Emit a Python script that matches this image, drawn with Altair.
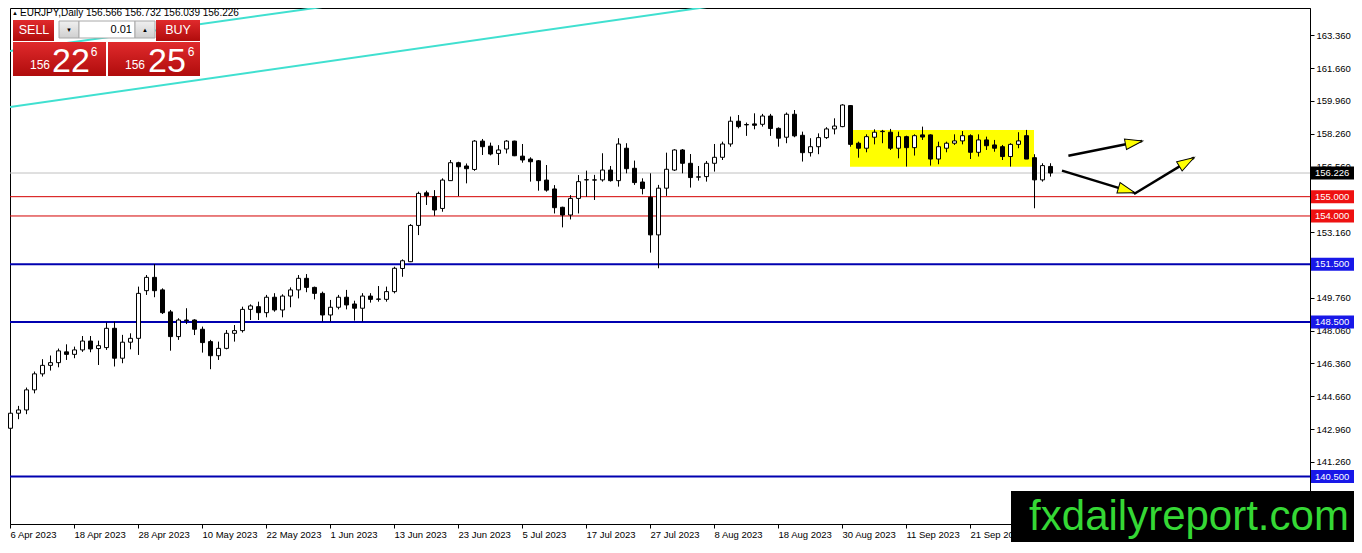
import json
import altair as alt
import pandas as pd

# ---------------- values ----------------
date_labels = ['6 Apr 2023', '18 Apr 2023', '28 Apr 2023', '10 May 2023', '22 May 2023',
               '1 Jun 2023', '13 Jun 2023', '23 Jun 2023', '5 Jul 2023', '17 Jul 2023',
               '27 Jul 2023', '8 Aug 2023', '18 Aug 2023', '30 Aug 2023', '11 Sep 2023',
               '21 Sep 2023']

opens = [143.00, 143.78, 143.95, 144.99, 145.82, 146.26, 146.40, 146.96, 146.83, 147.06,
         147.52, 147.13, 147.18, 148.18, 146.63, 147.46, 147.66, 150.13, 150.82, 150.17,
         149.03, 147.75, 148.61, 148.61, 148.13, 147.49, 146.76, 147.14, 147.92, 148.06,
         149.16, 149.30, 148.99, 149.79, 149.13, 149.85, 150.17, 150.77, 150.30, 149.99,
         148.87, 149.27, 149.79, 149.44, 149.22, 149.85, 149.68, 149.68, 150.08, 151.28,
         151.63, 153.51, 155.20, 155.00, 154.39, 155.83, 156.76, 156.59, 156.41, 157.88,
         157.62, 157.24, 157.47, 157.88, 157.10, 156.95, 156.86, 155.86, 155.40, 154.45,
         154.05, 154.91, 155.87, 155.87, 155.87, 156.38, 155.83, 157.51, 156.47, 155.76,
         154.97, 153.02, 155.44, 156.38, 157.42, 156.73, 156.01, 156.04, 156.73, 157.04,
         157.73, 158.91, 158.72, 158.77, 158.75, 159.18, 158.54, 158.08, 159.27, 158.18,
         157.28, 157.59, 158.06, 158.51, 158.63, 159.72, 157.77, 157.51, 158.08, 158.37,
         158.34, 157.51, 158.11, 157.54, 158.20, 158.20, 156.95, 157.51, 157.77, 157.89,
         158.16, 157.30, 157.94, 157.68, 157.59, 157.08, 157.71, 158.16, 157.02, 155.87,
         156.566]
highs = [143.95, 144.16, 145.11, 145.94, 146.58, 146.77, 147.13, 147.35, 147.23, 147.78,
         147.78, 147.54, 148.48, 148.53, 147.84, 147.92, 150.34, 150.94, 151.51, 150.25,
         149.13, 148.70, 149.22, 148.65, 148.27, 147.58, 147.49, 148.09, 148.35, 149.30,
         149.42, 149.56, 149.91, 150.00, 149.94, 150.30, 150.94, 150.99, 150.34, 150.08,
         149.65, 149.91, 150.17, 149.61, 150.00, 150.00, 150.37, 150.34, 151.37, 151.75,
         153.58, 155.26, 155.31, 155.34, 155.95, 156.90, 156.81, 156.72, 157.93, 157.99,
         157.80, 157.67, 157.93, 157.90, 157.73, 157.04, 156.90, 156.64, 155.60, 154.48,
         155.08, 156.12, 156.35, 156.13, 157.25, 156.59, 158.03, 157.77, 156.87, 155.95,
         156.21, 155.61, 157.28, 157.46, 157.47, 157.21, 156.59, 156.85, 157.73, 157.85,
         159.15, 159.23, 158.84, 159.32, 159.29, 159.29, 158.59, 159.36, 159.49, 158.37,
         158.03, 158.28, 158.60, 159.06, 159.79, 159.75, 157.85, 158.23, 158.49, 158.46,
         158.51, 158.37, 158.16, 158.23, 158.63, 158.23, 157.85, 157.85, 158.23, 158.40,
         158.23, 158.23, 158.11, 157.94, 157.68, 157.77, 158.34, 158.46, 157.20, 156.73,
         156.732]
lows = [142.43, 143.47, 143.73, 144.81, 145.68, 145.99, 146.16, 146.54, 146.63, 146.96,
        146.94, 146.28, 147.06, 146.20, 146.37, 147.09, 146.80, 149.91, 149.79, 148.92,
        147.02, 147.58, 148.40, 147.83, 146.92, 146.06, 146.54, 147.09, 147.49, 147.96,
        148.61, 148.61, 148.75, 149.04, 148.75, 149.27, 149.73, 150.05, 149.68, 148.53,
        148.53, 149.16, 149.16, 148.58, 148.53, 149.51, 149.56, 149.56, 149.99, 150.85,
        151.61, 153.01, 154.57, 154.01, 154.22, 155.83, 155.03, 155.69, 156.34, 157.16,
        157.14, 156.64, 157.24, 157.10, 156.76, 155.78, 155.31, 155.26, 154.13, 153.41,
        153.82, 154.13, 155.00, 154.83, 155.78, 155.78, 155.52, 156.21, 155.61, 155.12,
        152.10, 151.29, 155.04, 156.33, 156.21, 155.47, 155.83, 155.78, 156.30, 156.90,
        157.59, 158.54, 158.15, 158.49, 158.63, 158.15, 157.59, 157.77, 158.08, 156.82,
        157.08, 157.20, 157.99, 158.23, 158.60, 157.59, 157.02, 157.30, 157.71, 157.77,
        157.42, 156.99, 156.56, 157.13, 157.94, 156.61, 156.68, 157.30, 157.68, 157.71,
        156.95, 157.08, 157.42, 157.33, 156.90, 156.56, 157.51, 156.95, 154.40, 155.78,
        156.039]
closes = [143.78, 143.95, 144.99, 145.82, 146.26, 146.40, 147.01, 146.83, 147.06, 147.52,
          147.11, 147.28, 148.18, 146.63, 147.46, 147.66, 149.99, 150.82, 150.13, 148.99,
          147.75, 148.61, 148.58, 148.13, 147.44, 146.76, 147.14, 147.92, 148.06, 149.16,
          149.34, 148.99, 149.79, 149.13, 149.85, 150.17, 150.77, 150.30, 149.99, 148.87,
          149.27, 149.79, 149.39, 149.22, 149.85, 149.68, 149.70, 150.08, 151.29, 151.68,
          153.51, 155.17, 155.05, 154.31, 155.86, 156.76, 156.55, 156.45, 157.88, 157.59,
          157.21, 157.42, 157.88, 157.12, 156.90, 156.81, 155.83, 155.34, 154.43, 154.05,
          154.91, 155.78, 155.88, 155.86, 156.38, 155.83, 157.73, 156.45, 155.73, 155.42,
          153.02, 155.44, 156.42, 157.42, 156.73, 155.99, 156.03, 156.73, 157.04, 157.73,
          158.91, 158.63, 158.74, 158.70, 159.18, 158.53, 158.03, 159.27, 158.15, 157.28,
          157.59, 158.06, 158.51, 158.66, 159.75, 157.71, 157.51, 158.11, 158.34, 158.39,
          157.51, 158.11, 157.54, 158.16, 158.09, 156.95, 157.59, 157.77, 157.89, 158.16,
          157.30, 157.94, 157.64, 157.51, 157.08, 157.71, 157.89, 156.95, 155.87, 156.61,
          156.226]

# right-axis ticks (those fully hidden behind the level tags are left out)
price_ticks = [141.26, 142.96, 144.66, 146.36, 148.06, 149.76,
               153.16, 156.56, 158.26, 159.96, 161.66, 163.36]
bid_price = 156.226
red_levels = [155.0, 154.0]
blue_levels = [151.5, 148.5, 140.5]

# turquoise channel lines (bar index, price)
channel_x0 = [0, 0]
channel_p0 = [159.65, 162.55]
channel_x1 = [90.5, 42.5]
channel_p1 = [165.03, 165.03]

# yellow consolidation box
zone_x = [105, 128]
zone_p = [156.55, 158.46]

# hand-drawn arrows
arrow_x0 = [132.3, 131.5, 140.5]
arrow_p0 = [157.12, 156.35, 155.14]
arrow_x1 = [141.5, 140.5, 148.0]
arrow_p1 = [157.88, 155.21, 157.02]
head_x = [140.5, 139.6, 147.1]
head_p = [157.80, 155.33, 156.80]
head_angle = [349, 17, 329]

W, H = 1300, 516
FONT = 'Liberation Sans'

candles = pd.DataFrame({'i': range(len(opens)), 'o': opens, 'h': highs,
                        'l': lows, 'c': closes})

xs = alt.Scale(domain=[0, 162.5], nice=False, zero=False)
ys = alt.Scale(domain=[138.04, 164.776], nice=False, zero=False)

x_axis = alt.Axis(values=list(range(0, 121, 8)),
                  labelExpr=json.dumps(date_labels) + '[round(datum.value / 8)]',
                  orient='bottom', labelAlign='left', labelFlush=False,
                  labelOverlap=False, tickSize=4, labelPadding=1,
                  labelFontSize=9.5, labelFont=FONT, labelColor='black',
                  domainColor='black', tickColor='black', grid=False, title=None)
y_axis = alt.Axis(values=price_ticks, format='.3f', orient='right', tickSize=4,
                  labelPadding=2, labelFontSize=9.5, labelFont=FONT,
                  labelColor='black', domainColor='black', tickColor='black',
                  grid=False, title=None, labelOverlap=False, labelFlush=False)


def X(f):
    return alt.X(f, type='quantitative', scale=xs, axis=x_axis)


def Y(f):
    return alt.Y(f, type='quantitative', scale=ys, axis=y_axis)


one = pd.DataFrame({'k': [0]})


def box(x, x2, y, y2, fill, stroke=None):
    kw = dict(fill=fill, clip=False)
    if stroke:
        kw.update(stroke=stroke, strokeWidth=1)
    return alt.Chart(one).mark_rect(**kw).encode(
        x=alt.value(x), x2=alt.value(x2), y=alt.value(y), y2=alt.value(y2))


def txt(s, x, y, size, color='white', align='center', baseline='middle'):
    return alt.Chart(one).mark_text(
        text=s, fontSize=size, color=color, align=align, baseline=baseline,
        font=FONT, clip=False).encode(x=alt.value(x), y=alt.value(y))


def grad(top, bottom):
    return {'gradient': 'linear', 'x1': 0, 'y1': 0, 'x2': 0, 'y2': 1,
            'stops': [{'offset': 0, 'color': top}, {'offset': 1, 'color': bottom}]}


# ── consolidation zone ──
zone = alt.Chart(pd.DataFrame({'x0': [zone_x[0]], 'x1': [zone_x[1]],
                               'lo': [zone_p[0]], 'hi': [zone_p[1]]})).mark_rect(
    color='#ffff00').encode(x=X('x0'), x2='x1', y=Y('lo'), y2='hi')

# ── horizontal levels ──
bid_line = alt.Chart(pd.DataFrame({'p': [bid_price]})).mark_rule(
    color='#c0c0c0', strokeWidth=1).encode(y=Y('p'))
red_lines = alt.Chart(pd.DataFrame({'p': red_levels})).mark_rule(
    color='#d40000', strokeWidth=1).encode(y=Y('p'))
blue_lines = alt.Chart(pd.DataFrame({'p': blue_levels})).mark_rule(
    color='#0000b0', strokeWidth=2).encode(y=Y('p'))

# ── channel ──
channel = alt.Chart(pd.DataFrame({'x0': channel_x0, 'p0': channel_p0,
                                  'x1': channel_x1, 'p1': channel_p1})).mark_rule(
    color='#40e0d0', strokeWidth=2, clip=True).encode(
    x=X('x0'), y=Y('p0'), x2='x1', y2='p1')

# ── candles ──
wicks = alt.Chart(candles).mark_rule(color='black', strokeWidth=1, xOffset=0.5).encode(
    x=X('i'), y=Y('l'), y2='h')
bodies = alt.Chart(candles).mark_rect(
    stroke='black', strokeWidth=1, xOffset=-1.5, x2Offset=2.5).encode(
    x=X('i'), x2='i', y=Y('o'), y2='c',
    fill=alt.condition('datum.c >= datum.o', alt.value('white'), alt.value('black')))

# ── arrows ──
arrows = alt.Chart(pd.DataFrame({'x0': arrow_x0, 'p0': arrow_p0,
                                 'x1': arrow_x1, 'p1': arrow_p1})).mark_rule(
    color='black', strokeWidth=2.5).encode(x=X('x0'), y=Y('p0'), x2='x1', y2='p1')
heads = alt.Chart(pd.DataFrame({'x': head_x, 'p': head_p, 'a': head_angle})).mark_point(
    shape='M1,0L-1,-0.62L-1,0.62Z', filled=True, fill='#ffff00', stroke='black',
    strokeWidth=1, size=300, opacity=1).encode(
    x=X('x'), y=Y('p'), angle=alt.Angle('a:Q', scale=None))

# ── trade panel (top left) ──
red = grad('#e02a2c', '#b00c0c')
grey = grad('#f0f0f0', '#cfcfcf')
panel = [
    txt('▲', 5, 5, 6, color='black'),
    txt(f'EURJPY,Daily  {opens[-1]:.3f} {highs[-1]:.3f} {lows[-1]:.3f} {closes[-1]:.3f}',
        10, 5, 10, color='black', align='left'),
    box(3, 44, 12, 33, red),
    txt('SELL', 24, 22, 12.5),
    box(49, 69, 13, 30, grey, stroke='#a8a8a8'),
    box(69, 125, 13, 30, 'white', stroke='#a8a8a8'),
    box(125, 145, 13, 30, grey, stroke='#a8a8a8'),
    txt('▼', 59, 22, 6, color='black'),
    txt('0.01', 122, 22, 11, color='black', align='right'),
    txt('▲', 135, 22, 6, color='black'),
    box(146, 190, 12, 33, red),
    txt('BUY', 168, 22, 12.5),
    box(3, 96, 34, 68, red),
    box(98, 190, 34, 68, red),
    txt('156', 30, 61, 12, baseline='alphabetic'),
    txt('22', 61, 64, 34, baseline='alphabetic'),
    txt('6', 84, 44, 12),
    txt('156', 125, 61, 12, baseline='alphabetic'),
    txt('25', 157, 64, 34, baseline='alphabetic'),
    txt('6', 181, 44, 12),
]

# ── watermark ──
watermark = [
    box(1001, W + 44, 483, H + 18, 'black'),
    txt('fxdailyreport.com', 1179, 522, 42, color='#35d835', baseline='alphabetic'),
]

# ── price tags on the right axis ──
tags = pd.DataFrame({'p': [bid_price] + red_levels + blue_levels,
                     'bg': ['black', '#ee1111', '#ee1111', '#1818e8', '#1818e8', '#1818e8']})
tag_box = alt.Chart(tags).mark_rect(clip=False, yOffset=-6.5, y2Offset=6.5).encode(
    x=alt.value(W + 1), x2=alt.value(W + 44), y=Y('p'), y2='p',
    fill=alt.Fill('bg:N', scale=None))
tag_txt = alt.Chart(tags).mark_text(
    clip=False, align='left', baseline='middle', color='white',
    fontSize=9.5, font=FONT).encode(
    x=alt.value(W + 5), y=Y('p'), text=alt.Text('p:Q', format='.3f'))

chart = alt.layer(
    zone, bid_line, red_lines, blue_lines, channel, wicks, bodies, arrows, heads,
    *panel, *watermark, tag_box, tag_txt
).properties(
    width=W, height=H, padding=0
).configure_view(
    stroke='black', strokeWidth=1
)

chart.save("out.html", embed_options={"renderer": "svg", "actions": False})
